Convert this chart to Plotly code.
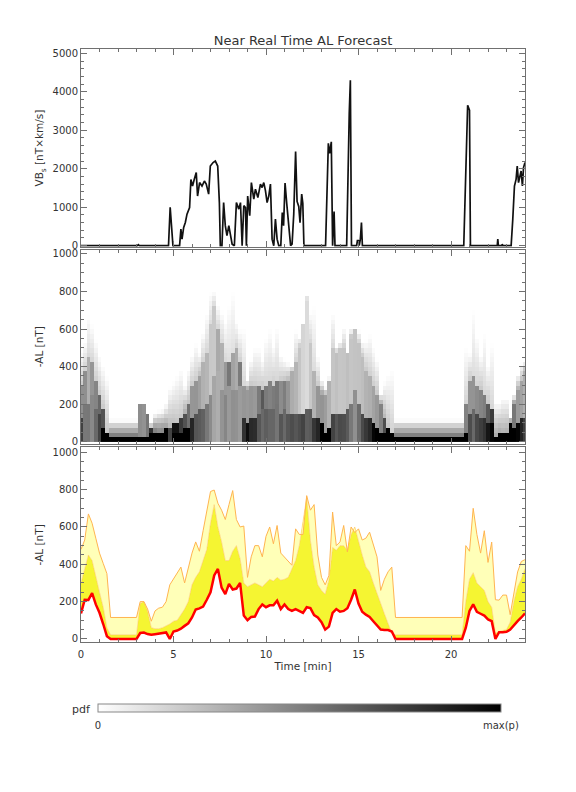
import numpy as np
import plotly.graph_objects as go

# ---------------- data ----------------
# top panel: VBs [nT x km/s]
t_vbs = [0, 3.05, 3.1, 3.15, 4.73, 4.82, 4.97, 5.33, 5.4, 5.46, 5.55, 5.64, 5.73, 5.87, 5.94,
         6.03, 6.12, 6.23, 6.3, 6.41, 6.54, 6.67, 6.77, 6.9, 6.99, 7.14, 7.26, 7.39, 7.48,
         7.53, 7.62, 7.71, 7.8, 7.89, 7.99, 8.07, 8.17, 8.29, 8.4, 8.53, 8.62, 8.71, 8.8,
         8.89, 8.94, 9.01, 9.12, 9.21, 9.34, 9.43, 9.56, 9.7, 9.79, 9.88, 9.97, 10.06,
         10.15, 10.24, 10.33, 10.42, 10.51, 10.6, 10.69, 10.8, 10.88, 10.95, 11.03, 11.12,
         11.23, 11.33, 11.41, 11.5, 11.6, 11.68, 11.77, 11.84, 11.93, 11.99, 12.05, 13.22,
         13.37, 13.44, 13.53, 13.6, 13.68, 13.73, 14.36, 14.47, 14.5, 14.56, 14.62, 14.9,
         14.94, 15.0, 15.04, 15.1, 15.16, 15.21, 20.69, 20.9, 21.0, 21.05, 22.5, 22.53,
         22.56, 22.75, 22.77, 22.8, 23.25, 23.34, 23.43, 23.52, 23.58, 23.65, 23.72, 23.79,
         23.86, 23.92, 24.0]
vbs = [0, 0, 25, 0, 0, 1000, 0, 0, 430, 170, 475, 605, 820, 990, 1720,
       1550, 1720, 1900, 1290, 1640, 1550, 1680, 1600, 1340, 2070, 2160, 2200, 2070, 1120,
       0, 0, 1120, 520, 260, 520, 300, 40, 0, 1120, 950, 1120, 0, 1040,
       990, 0, 1290, 780, 1640, 1210, 1470, 1250, 1600, 1510, 1640, 1430, 1120,
       1290, 1600, 170, 0, 690, 170, 0, 0, 860, 520, 1630, 1100,
       430, 0, 40, 820, 2450, 1150, 1020, 600, 1340, 1100, 0, 0,
       2660, 2400, 2700, 0, 890, 0, 0, 3100, 3450, 4300, 0, 0,
       130, 130, 0, 170, 600, 0, 0, 3650, 3520, 0, 0, 170,
       0, 0, 40, 0, 0, 690, 1550, 1730, 2070, 1640, 1810, 1940,
       1550, 2030, 2160]

# bottom panel: forecast bands of -AL [nT], every 0.2 min
t_al = [round(0.2 * i, 1) for i in range(121)]
al_red = [137, 210, 209, 245, 185, 140, 80, 15, 0, 0, 0, 0, 0, 0, 0, 0,
          32, 34, 26, 22, 25, 28, 32, 35, 0, 40,
          45, 55, 70, 84, 115, 158, 164, 173, 210, 250, 340, 375, 275, 240, 295,
          265, 270, 300, 125, 100, 118, 120, 160, 185, 170,
          180, 180, 205, 160, 185, 160, 150, 160, 150, 140, 170, 165, 128, 115, 90,
          50, 66, 140, 160, 146, 150, 165, 210, 265, 190,
          146, 130, 118, 95, 70, 50, 48, 48, 40, 0, 0, 0, 0, 0, 0,
          0, 0, 0, 0, 0, 0, 0, 0, 0, 0,
          0, 0, 0, 60, 150, 185, 145, 135, 125, 105, 95, 0, 36, 36, 38,
          50, 75, 95, 115, 137]
al_mid = [300, 370, 450, 420, 330, 250, 170, 60, 22, 22, 22, 22, 22, 22, 22, 22,
          190, 200, 150, 60, 55, 55, 60, 70, 80, 95,
          100, 130, 160, 200, 290, 330, 360, 420, 480, 620, 720, 600, 520, 420, 420,
          470, 500, 430, 300, 280, 290, 300, 290, 280, 300,
          320, 310, 330, 315, 320, 330, 380, 420, 500, 630, 759, 528, 386, 290, 260,
          240, 315, 490, 475, 500, 500, 475, 560, 600, 520,
          450, 386, 360, 300, 250, 190, 135, 80, 30, 22, 22, 22, 22, 22, 22,
          22, 22, 22, 22, 22, 22, 22, 22, 22, 22,
          22, 22, 22, 200, 320, 355, 300, 280, 260, 200, 170, 30, 40, 45, 50,
          90, 200, 280, 320, 377]
al_hi = [480, 530, 670, 620, 540, 460, 405, 350, 115, 115, 115, 115, 115, 115, 115, 115,
         200, 200, 160, 95, 150, 165, 170, 200, 290, 320,
         350, 385, 300, 387, 460, 520, 470, 580, 680, 790, 798, 727, 690, 640, 720,
         795, 640, 600, 605, 330, 440, 500, 500, 440, 550,
         600, 510, 608, 460, 440, 420, 395, 590, 560, 560, 768, 690, 720, 450, 330,
         290, 340, 680, 500, 520, 608, 466, 600, 570, 590,
         530, 540, 572, 505, 440, 260, 320, 360, 385, 115, 115, 115, 115, 115, 115,
         115, 115, 115, 115, 115, 115, 115, 115, 115, 115,
         115, 115, 115, 500, 470, 700, 560, 460, 580, 410, 519, 210, 208, 235, 235,
         130, 250, 359, 415, 425]

# middle panel: pdf of -AL on 25 nT bins, built from the bands above
al_bins = [12.5 + 25 * k for k in range(40)]
pdf = np.zeros((len(al_bins), len(t_al)))
for i, (r, m, h) in enumerate(zip(al_red, al_mid, al_hi)):
    for j, v in enumerate(al_bins):
        if v < r:
            d = 0.45 / (r + 40)
        elif v < m:
            d = 0.30 / (m - r + 40)
        elif v < h:
            d = 0.25 * (h - v) / (h - m) / (h - m + 20 + 0.5 * m)
        else:
            d = 0.0
        pdf[j, i] = d
ZMAX = 0.0034

# ---------------- figure ----------------
W, H = 576, 792
OFF = 8  # page body margin of the html page


def fx(p):
    return (p - OFF) / W


def fy(p):
    return 1 - (p - OFF) / H


FONT = "DejaVu Sans"
TXT = "#333333"
AX = "#707070"
xdom = [fx(81), fx(525)]

fig = go.Figure()
fig.add_trace(go.Scatter(x=t_vbs, y=vbs, mode="lines", line=dict(color="#111111", width=1.7),
                         xaxis="x", yaxis="y", showlegend=False))
fig.add_trace(go.Heatmap(
    x=t_al, y=al_bins, z=pdf, zmin=0, zmax=ZMAX,
    colorscale=[[0, "#ffffff"], [1, "#000000"]], xaxis="x2", yaxis="y2",
    colorbar=dict(orientation="h", x=fx(299.4), xanchor="center", y=fy(704.3),
                  yanchor="top", len=403, lenmode="pixels", thickness=8,
                  thicknessmode="pixels", outlinecolor="#888888", outlinewidth=1,
                  tickvals=[0, ZMAX], ticktext=["0", "max(p)"], ticks="outside",
                  ticklen=5, tickcolor="rgba(0,0,0,0)",
                  tickfont=dict(family=FONT, size=10, color=TXT), xpad=0, ypad=0)))
fig.add_trace(go.Scatter(x=t_al, y=al_red, mode="lines", line=dict(width=0, color="#ff0000"),
                         xaxis="x3", yaxis="y3", showlegend=False, hoverinfo="skip"))
fig.add_trace(go.Scatter(x=t_al, y=al_mid, mode="lines", fill="tonexty", fillcolor="#f5f532",
                         line=dict(color="rgba(255,185,90,0.6)", width=0.8),
                         xaxis="x3", yaxis="y3", showlegend=False))
fig.add_trace(go.Scatter(x=t_al, y=al_hi, mode="lines", fill="tonexty", fillcolor="#ffffb8",
                         line=dict(color="#ffb450", width=1),
                         xaxis="x3", yaxis="y3", showlegend=False))
fig.add_trace(go.Scatter(x=t_al, y=al_red, mode="lines", line=dict(color="#ff0000", width=2.5),
                         xaxis="x3", yaxis="y3", showlegend=False))

common = dict(showline=True, linecolor=AX, linewidth=1, mirror="ticks", ticks="inside",
              ticklen=6, tickwidth=1, tickcolor=AX, showgrid=False, zeroline=False,
              automargin=False, tickfont=dict(family=FONT, size=10, color=TXT))


def xax(anchor, labels):
    d = dict(common, domain=xdom, range=[0, 24], tick0=0, dtick=5, anchor=anchor,
             showticklabels=labels,
             minor=dict(ticks="inside", ticklen=3, tickcolor=AX, dtick=1))
    if labels:
        d["title"] = dict(text="Time [min]", font=dict(family=FONT, size=10.5, color=TXT),
                          standoff=3)
        d["ticklabelstandoff"] = 3
    return d


def yax(anchor, top, bottom, rng, dt, mdt, title):
    return dict(common, domain=[fy(bottom), fy(top)], range=rng, dtick=dt,
                tick0=0, anchor=anchor,
                minor=dict(ticks="inside", ticklen=3, tickcolor=AX, dtick=mdt),
                title=dict(text=title, font=dict(family=FONT, size=10.5, color=TXT),
                           standoff=6))


fig.update_layout(
    width=W, height=H, margin=dict(l=0, r=0, t=0, b=0, autoexpand=False),
    paper_bgcolor="white", plot_bgcolor="white",
    font=dict(family=FONT, size=10, color=TXT),
    title=dict(text="Near Real Time AL Forecast", x=fx(303), xanchor="center",
               y=fy(40), yanchor="middle", font=dict(family=FONT, size=13, color=TXT)),
    xaxis=xax("y", False), xaxis2=xax("y2", False), xaxis3=xax("y3", True),
    yaxis=yax("x", 49.3, 246.8, [-29, 5104], 1000, 200, "VB<sub>s</sub> [nT×km/s]"),
    yaxis2=yax("x2", 250, 443.5, [-10, 1021], 200, 50, "-AL [nT]"),
    yaxis3=yax("x3", 447.3, 642.3, [-18, 1027], 200, 50, "-AL [nT]"),
    annotations=[dict(text="pdf", x=fx(81), y=fy(709.5), xref="paper", yref="paper",
                      showarrow=False, xanchor="center", yanchor="middle",
                      font=dict(family=FONT, size=11, color=TXT))],
)

fig.write_html("out.html")
